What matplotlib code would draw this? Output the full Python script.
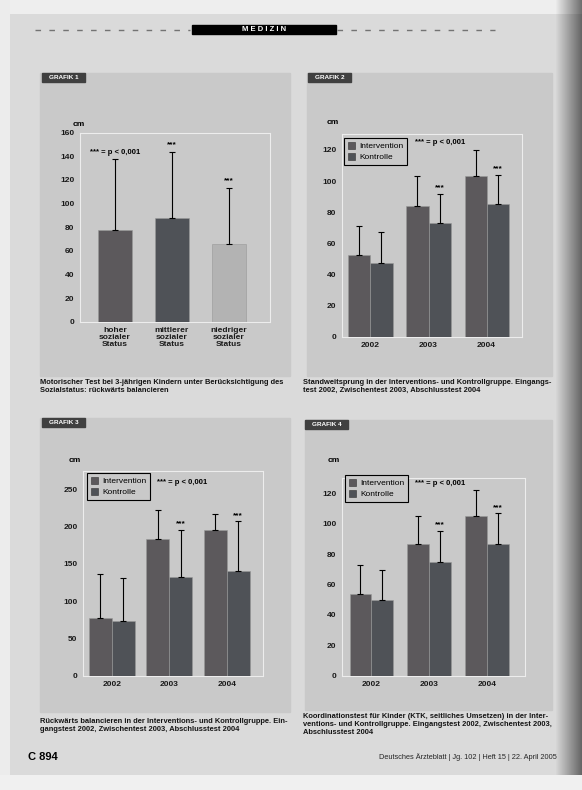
import numpy as np
import matplotlib
matplotlib.use("Agg")
import matplotlib.pyplot as plt
from matplotlib.patches import Rectangle, Patch

plt.rcParams['font.family'] = ['Liberation Sans', 'DejaVu Sans']

# ---------------- data ----------------
status_labels = ["hoher\nsozialer\nStatus", "mittlerer\nsozialer\nStatus", "niedriger\nsozialer\nStatus"]
g1_means = [78, 88, 66]
g1_upper = [138, 144, 113]

years = ["2002", "2003", "2004"]
series_names = ["Intervention", "Kontrolle"]

g2_int = [52.5, 84, 103]
g2_int_up = [71, 103, 120]
g2_kon = [47.5, 73, 85]
g2_kon_up = [67.5, 92, 104]

g3_int = [78, 183, 195]
g3_int_up = [136, 223, 217]
g3_kon = [74, 133, 140]
g3_kon_up = [131, 196, 207]

g4_int = [54, 86.5, 105]
g4_int_up = [73, 105, 122]
g4_kon = [49.5, 75, 87]
g4_kon_up = [69.5, 95.5, 107]

sig_text = "*** = p < 0,001"
tabs = ["GRAFIK 1", "GRAFIK 2", "GRAFIK 3", "GRAFIK 4"]
captions = [
    "Motorischer Test bei 3-jährigen Kindern unter Berücksichtigung des\nSozialstatus: rückwärts balancieren",
    "Standweitsprung in der Interventions- und Kontrollgruppe. Eingangs-\ntest 2002, Zwischentest 2003, Abschlusstest 2004",
    "Rückwärts balancieren in der Interventions- und Kontrollgruppe. Ein-\ngangstest 2002, Zwischentest 2003, Abschlusstest 2004",
    "Koordinationstest für Kinder (KTK, seitliches Umsetzen) in der Inter-\nventions- und Kontrollgruppe. Eingangstest 2002, Zwischentest 2003,\nAbschlusstest 2004",
]

# ---------------- layout helpers ----------------
W, H = 582, 790
fig = plt.figure(figsize=(W / 100, H / 100), dpi=100)

def fx(x):
    return x / W

def fy(y):
    return 1 - y / H

def rect(x0, y0, x1, y1):
    return [x0 / W, 1 - y1 / H, (x1 - x0) / W, (y1 - y0) / H]

# page background with scan shading
bg = np.full((H, W, 3), 218.0)
bg[:14, :, :] = 238
bg[:, :10, :] = 236
xs = np.arange(W)
shade = np.clip((xs - 555) / 27.0, 0, 1)
bg = bg * (1 - 0.55 * shade[None, :, None])
bg[H - 15:, :, :] = 240
bgax = fig.add_axes([0, 0, 1, 1], zorder=-10)
bgax.imshow(bg.astype(np.uint8), aspect='auto', extent=[0, W, H, 0])
bgax.set_xlim(0, W)
bgax.set_ylim(H, 0)
bgax.axis('off')

PANEL = (0.79, 0.79, 0.79)
DARK1 = (0.36, 0.35, 0.36)
DARK2 = (0.31, 0.32, 0.34)
LIGHT = (0.70, 0.70, 0.70)
SPINE = (0.93, 0.93, 0.93)

# header
bgax.plot([35, 190], [30, 30], color=(0.45, 0.45, 0.45), lw=1.0, ls=(0, (4, 6)))
bgax.plot([337, 495], [30, 30], color=(0.45, 0.45, 0.45), lw=1.0, ls=(0, (4, 6)))
bgax.add_patch(Rectangle((192, 25), 144, 9, color='black'))
bgax.text(264, 29.5, "M E D I Z I N", color='white', fontsize=5.5, ha='center', va='center', fontweight='bold')

# panel boxes, tabs and captions
boxes = [(40, 73, 290, 376), (307, 73, 552, 376), (40, 418, 290, 712), (305, 420, 552, 710)]
tabpos = [(42, 73), (308, 73), (42, 418), (305, 420)]
cappos = [(40, 379), (303, 379), (40, 718), (303, 713)]
for (x0, y0, x1, y1), (tx, ty), txt, (cx, cy), cap in zip(boxes, tabpos, tabs, cappos, captions):
    bgax.add_patch(Rectangle((x0, y0), x1 - x0, y1 - y0, color=PANEL, zorder=1))
    bgax.add_patch(Rectangle((tx, ty), 43, 9, color=(0.25, 0.25, 0.25), zorder=2))
    bgax.text(tx + 21.5, ty + 4.7, txt, color='white', fontsize=4.6, ha='center', va='center',
              fontweight='bold', zorder=3)
    bgax.text(cx, cy, cap, fontsize=5.45, fontweight='bold', ha='left', va='top',
              linespacing=1.2, color=(0.08, 0.08, 0.08), zorder=3)

# footer
bgax.text(28, 757, "C 894", fontsize=8, fontweight='bold', ha='left', va='center')
bgax.text(557, 757, "Deutsches Ärzteblatt | Jg. 102 | Heft 15 | 22. April 2005", fontsize=5.3,
          ha='right', va='center', color=(0.15, 0.15, 0.15))


def style_axes(ax):
    ax.set_facecolor(PANEL)
    for s in ax.spines.values():
        s.set_color(SPINE)
        s.set_linewidth(0.8)
    ax.tick_params(length=0, labelsize=6, pad=4, colors=(0.1, 0.1, 0.1))
    for lab in ax.get_yticklabels() + ax.get_xticklabels():
        lab.set_fontweight('bold')


def err(ax, x, means, ups):
    ax.errorbar(x, means, yerr=[np.zeros(len(means)), np.array(ups) - np.array(means)],
                fmt='none', ecolor='black', elinewidth=0.8, capsize=2.5, capthick=0.8, zorder=4)


# ---------------- Grafik 1 ----------------
ax1 = fig.add_axes(rect(80, 132.7, 270, 321.7))
x1 = np.arange(len(g1_means))
ax1.bar(x1, g1_means, width=0.6, color=[DARK1, DARK2, LIGHT], edgecolor=(0.6, 0.6, 0.6), linewidth=0.4, zorder=3)
err(ax1, x1, g1_means, g1_upper)
ax1.set_xlim(-0.614, 2.72)
ax1.set_ylim(0, 160)
ax1.set_yticks(np.arange(0, 161, 20))
ax1.set_xticks(x1)
ax1.set_xticklabels(status_labels, linespacing=1.0)
style_axes(ax1)
ax1.text(0, 143, sig_text, fontsize=5.5, ha='center', va='center', fontweight='bold')
ax1.text(1, g1_upper[1] + 3, "***", fontsize=6, ha='center', va='bottom', fontweight='bold')
ax1.text(2, g1_upper[2] + 3, "***", fontsize=6, ha='center', va='bottom', fontweight='bold')
fig.text(fx(73), fy(124), "cm", fontsize=6, fontweight='bold', va='center')


def grouped(rect_px, a, a_up, b, b_up, ylim, yticks, xlim, bw, sig_xy, leg_xy, cm_xy):
    ax = fig.add_axes(rect(*rect_px))
    x = np.arange(len(years))
    ax.bar(x - bw / 2, a, width=bw, color=DARK1, edgecolor=(0.6, 0.6, 0.6), linewidth=0.4, zorder=3)
    ax.bar(x + bw / 2, b, width=bw, color=DARK2, edgecolor=(0.6, 0.6, 0.6), linewidth=0.4, zorder=3)
    err(ax, x - bw / 2, a, a_up)
    err(ax, x + bw / 2, b, b_up)
    ax.set_xlim(*xlim)
    ax.set_ylim(*ylim)
    ax.set_yticks(yticks)
    ax.set_xticks(x)
    ax.set_xticklabels(years)
    style_axes(ax)
    span = ylim[1] - ylim[0]
    for i in (1, 2):
        ax.text(x[i] + bw / 2, b_up[i] + span * 0.012, "***", fontsize=6, ha='center', va='bottom',
                fontweight='bold')
    handles = [Patch(facecolor=DARK1, edgecolor=(0.2, 0.2, 0.2), linewidth=0.4),
               Patch(facecolor=DARK2, edgecolor=(0.2, 0.2, 0.2), linewidth=0.4)]
    leg = ax.legend(handles, series_names, loc='upper left', bbox_to_anchor=(fx(leg_xy[0]), fy(leg_xy[1])),
                    bbox_transform=fig.transFigure, borderaxespad=0, fontsize=6, frameon=True,
                    fancybox=False, edgecolor='black', facecolor=PANEL, framealpha=1,
                    handlelength=0.9, handleheight=0.9, handletextpad=0.5, borderpad=0.45,
                    labelspacing=0.35)
    leg.get_frame().set_linewidth(0.8)
    fig.text(fx(sig_xy[0]), fy(sig_xy[1]), sig_text, fontsize=5.5, fontweight='bold', va='center')
    fig.text(fx(cm_xy[0]), fy(cm_xy[1]), "cm", fontsize=6, fontweight='bold', va='center')
    return ax


# ---------------- Grafik 2 ----------------
grouped((342, 134.4, 522, 336.7), g2_int, g2_int_up, g2_kon, g2_kon_up,
        (0, 130), np.arange(0, 121, 20), (-0.49, 2.61), 0.38,
        (415, 142), (344, 138), (327, 123))

# ---------------- Grafik 3 ----------------
grouped((83, 470.8, 263, 675.7), g3_int, g3_int_up, g3_kon, g3_kon_up,
        (0, 275), np.arange(0, 251, 50), (-0.504, 2.63), 0.4,
        (157, 482), (87, 473), (69, 461))

# ---------------- Grafik 4 ----------------
grouped((342, 478.2, 525, 675.7), g4_int, g4_int_up, g4_kon, g4_kon_up,
        (0, 130), np.arange(0, 121, 20), (-0.51, 2.66), 0.38,
        (415, 483), (345, 475), (328, 460))

fig.savefig("out.png", dpi=100)
